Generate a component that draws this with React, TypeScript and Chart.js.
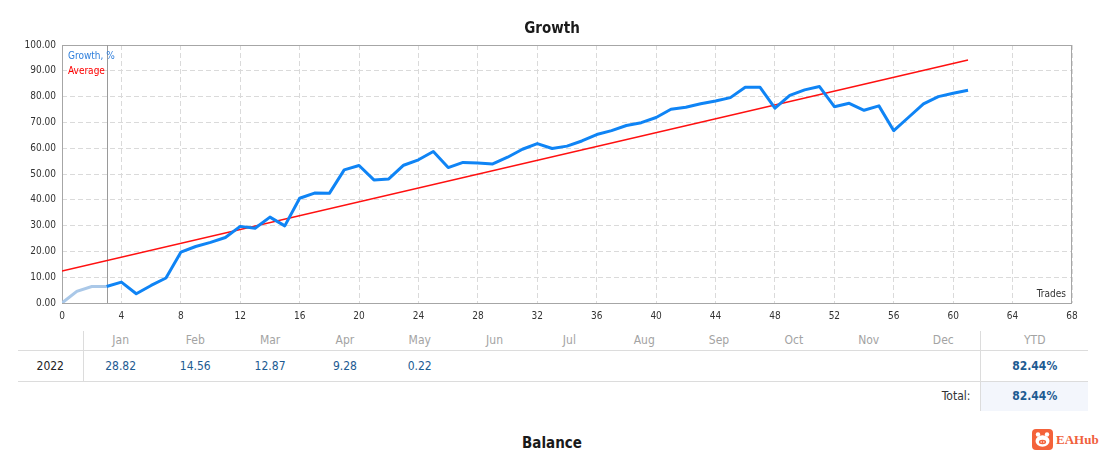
import { Chart, registerables } from 'chart.js'
import { useEffect, useRef } from 'react'

Chart.register(...registerables)

// growth curve, % (trade number -> value)
const preStartTrades = [0, 1, 2, 3]
const preStartGrowth = [0, 4.5, 6.4, 6.4]

const growthTrades = [
  3, 4, 5, 6, 7, 8, 9, 10, 11, 12, 13, 14, 15, 16, 17, 18, 19, 20,
  21, 22, 23, 24, 25, 26, 27, 28, 29, 30, 31, 32, 33, 34, 35, 36, 37, 38, 39, 40,
  41, 42, 43, 44, 45, 46, 47, 48, 49, 50, 51, 52, 53, 54, 55, 56, 57, 58, 59, 60, 61,
]
const growthValues = [
  6.4, 8.1, 3.6, 6.8, 9.7, 19.7, 21.9, 23.5, 25.4, 29.7, 29.0, 33.3, 29.9, 40.6, 42.6, 42.5, 51.6, 53.3,
  47.7, 48.1, 53.4, 55.5, 58.7, 52.5, 54.5, 54.3, 53.9, 56.5, 59.6, 61.8, 59.9, 60.8, 62.8, 65.3, 66.8, 68.8, 69.9, 71.9,
  75.1, 75.9, 77.2, 78.3, 79.6, 83.6, 83.6, 75.5, 80.5, 82.6, 83.9, 76.1, 77.4, 74.7, 76.4, 66.8, 72.0, 77.2, 80.0, 81.3, 82.44,
]

const averageTrades = [0, 61]
const averageValues = [12.4, 94.2]

const startTrade = 3

const months = ['Jan', 'Feb', 'Mar', 'Apr', 'May', 'Jun', 'Jul', 'Aug', 'Sep', 'Oct', 'Nov', 'Dec']
const monthlyReturns = ['28.82', '14.56', '12.87', '9.28', '0.22', '', '', '', '', '', '', '']
const year = '2022'
const ytd = '82.44%'
const total = '82.44%'

const FONT = '"DejaVu Sans Condensed", "DejaVu Sans", sans-serif'
const GRID = '#dadada'

const framePlugin = {
  id: 'frame',
  beforeDatasetsDraw(chart: Chart) {
    const { ctx, chartArea: a, scales } = chart
    ctx.save()
    ctx.strokeStyle = '#a6a6a6'
    ctx.lineWidth = 1
    ctx.strokeRect(a.left + 0.5, a.top + 0.5, a.right - a.left - 1, a.bottom - a.top)
    const x = Math.round(scales.x.getPixelForValue(startTrade)) + 0.5
    ctx.strokeStyle = '#9a9a9a'
    ctx.beginPath()
    ctx.moveTo(x, a.top)
    ctx.lineTo(x, a.bottom)
    ctx.stroke()
    ctx.restore()
  },
  afterDatasetsDraw(chart: Chart) {
    const { ctx, chartArea: a } = chart
    ctx.save()
    ctx.font = `10px ${FONT}`
    ctx.textBaseline = 'middle'
    ctx.textAlign = 'left'
    ctx.fillStyle = '#2f7fdc'
    ctx.fillText('Growth, %', a.left + 6, a.top + 11)
    ctx.fillStyle = '#ff0000'
    ctx.fillText('Average', a.left + 6, a.top + 26)
    ctx.fillStyle = '#333'
    ctx.textAlign = 'right'
    ctx.fillText('Trades', a.right - 6, a.bottom - 9)
    ctx.restore()
  },
}

function GrowthChart() {
  const canvasRef = useRef<HTMLCanvasElement>(null)

  useEffect(() => {
    if (!canvasRef.current) return
    const chart = new Chart(canvasRef.current, {
      type: 'line',
      data: {
        datasets: [
          {
            data: averageTrades.map((t, i) => ({ x: t, y: averageValues[i] })),
            borderColor: '#ff1010',
            borderWidth: 1.5,
            pointRadius: 0,
            order: 3,
          },
          {
            data: preStartTrades.map((t, i) => ({ x: t, y: preStartGrowth[i] })),
            borderColor: '#aac8e8',
            borderWidth: 3,
            pointRadius: 0,
            order: 2,
          },
          {
            data: growthTrades.map((t, i) => ({ x: t, y: growthValues[i] })),
            borderColor: '#0f84f5',
            borderWidth: 3,
            pointRadius: 0,
            borderJoinStyle: 'round',
            order: 1,
          },
        ],
      },
      options: {
        animation: false,
        responsive: false,
        layout: { padding: { top: 45, right: 32, left: 0, bottom: 0 } },
        plugins: {
          legend: { display: false },
          tooltip: { enabled: false },
        },
        scales: {
          x: {
            type: 'linear',
            min: 0,
            max: 68,
            ticks: { stepSize: 4, color: '#333', font: { family: FONT, size: 10 }, padding: 7 },
            grid: { color: GRID, drawTicks: false },
            border: { display: false, dash: [5, 3] },
            afterFit: (s: any) => {
              s.height = 27
            },
          },
          y: {
            min: 0,
            max: 100,
            ticks: {
              stepSize: 10,
              color: '#333',
              font: { family: FONT, size: 10 },
              padding: 6,
              callback: (v: any) => Number(v).toFixed(2),
            },
            grid: { color: GRID, drawTicks: false },
            border: { display: false, dash: [5, 3] },
            afterFit: (s: any) => {
              s.width = 62
            },
          },
        },
      },
      plugins: [framePlugin],
    })
    return () => chart.destroy()
  }, [])

  return <canvas ref={canvasRef} width={1104} height={330} style={{ position: 'absolute', left: 0, top: 0 }} />
}

const line = '1px solid #dcdcdc'

export default function App() {
  const colW = (981 - 83) / 12
  return (
    <div style={{ position: 'absolute', left: 0, top: 0, width: 1104, height: 456, background: '#fff', fontFamily: FONT, overflow: 'hidden' }}>
      <GrowthChart />
      <div style={{ position: 'absolute', top: 19, left: 0, width: 1104, textAlign: 'center', font: `bold 15px ${FONT}`, color: '#1a1a1a' }}>
        Growth
      </div>

      <table
        style={{
          position: 'absolute',
          left: 18,
          top: 331,
          width: 1070,
          borderCollapse: 'collapse',
          tableLayout: 'fixed',
          fontSize: 12,
          fontFamily: FONT,
        }}
      >
        <colgroup>
          <col style={{ width: 65 }} />
          {months.map((m) => (
            <col key={m} style={{ width: colW }} />
          ))}
          <col style={{ width: 107 }} />
        </colgroup>
        <tbody>
          <tr style={{ height: 19 }}>
            <td style={{ borderRight: line, borderBottom: line }} />
            {months.map((m) => (
              <td key={m} style={{ textAlign: 'center', color: '#a3a3a3', borderBottom: line, padding: 0 }}>
                {m}
              </td>
            ))}
            <td style={{ textAlign: 'center', color: '#a3a3a3', borderLeft: line, borderBottom: line, padding: 0 }}>YTD</td>
          </tr>
          <tr style={{ height: 31 }}>
            <td style={{ textAlign: 'center', color: '#222', borderRight: line, borderBottom: line, padding: 0 }}>{year}</td>
            {monthlyReturns.map((v, i) => (
              <td key={i} style={{ textAlign: 'center', color: '#1d5b92', borderBottom: line, padding: 0 }}>
                {v}
              </td>
            ))}
            <td style={{ textAlign: 'center', color: '#1d5b92', fontWeight: 'bold', borderLeft: line, borderBottom: line, padding: 0 }}>{ytd}</td>
          </tr>
          <tr style={{ height: 30 }}>
            <td colSpan={13} style={{ textAlign: 'right', color: '#333', paddingRight: 10 }}>
              Total:
            </td>
            <td style={{ textAlign: 'center', color: '#1d5b92', fontWeight: 'bold', borderLeft: line, background: '#f3f6fc', padding: 0 }}>{total}</td>
          </tr>
        </tbody>
      </table>

      <div style={{ position: 'absolute', top: 434, left: 0, width: 1104, textAlign: 'center', font: `bold 15px ${FONT}`, color: '#1a1a1a' }}>
        Balance
      </div>

      <div style={{ position: 'absolute', left: 1032, top: 429, display: 'flex', alignItems: 'center', gap: 3 }}>
        <svg width={21} height={21} viewBox="0 0 21 21">
          <rect x={0} y={0} width={21} height={21} rx={4} fill="#f4623a" />
          <circle cx={6} cy={5.5} r={2.2} fill="#fff" />
          <circle cx={15} cy={5.5} r={2.2} fill="#fff" />
          <ellipse cx={10.5} cy={12} rx={7} ry={5.8} fill="#fff" />
          <ellipse cx={10.5} cy={13} rx={3.6} ry={2.2} fill="#f4623a" />
          <circle cx={9.2} cy={13} r={0.7} fill="#fff" />
          <circle cx={11.8} cy={13} r={0.7} fill="#fff" />
        </svg>
        <span style={{ font: 'bold 13px "Liberation Serif", serif', color: '#f0603c' }}>EAHub</span>
      </div>
    </div>
  )
}
